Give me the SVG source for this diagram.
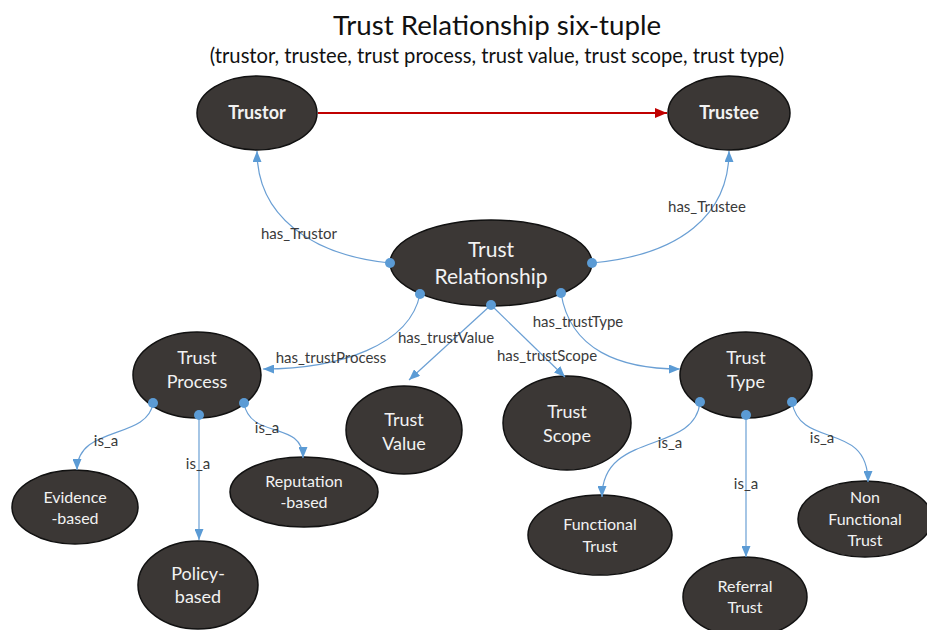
<svg xmlns="http://www.w3.org/2000/svg" width="927" height="630" viewBox="0 0 927 630">
  <style>
    .node ellipse { fill: #3b3735; stroke: #111; stroke-width: 1.5; }
    .node text { fill: #f2f2f2; font-family: Lato, "Open Sans", sans-serif; text-anchor: middle; }
    .edge { fill: none; stroke: #6a9fd4; stroke-width: 1.2; marker-end: url(#arrowBlue); }
    .dot { fill: #5b9bd5; }
    .elabel { fill: #3a3a3a; font-family: Lato, "Open Sans", sans-serif; font-size: 15px; text-anchor: middle; }
    .title { fill: #111; font-family: Lato, "Open Sans", sans-serif; text-anchor: middle; }
  </style>
  <defs>
    <marker id="arrowBlue" markerUnits="userSpaceOnUse" markerWidth="11" markerHeight="9" refX="11" refY="4.5" orient="auto">
      <path d="M0,0 L11,4.5 L0,9 z" fill="#5b9bd5"/>
    </marker>
    <marker id="arrowRed" markerUnits="userSpaceOnUse" markerWidth="12" markerHeight="10" refX="12" refY="5" orient="auto">
      <path d="M0,0 L12,5 L0,10 z" fill="#c00000"/>
    </marker>
  </defs>
  <rect width="927" height="630" fill="#ffffff"/>

  <!-- heading -->
  <text class="title" x="497" y="35" font-size="27.7">Trust Relationship six-tuple</text>
  <text class="title" x="497" y="63" font-size="20.2">(trustor, trustee, trust process, trust value, trust scope, trust type)</text>

  <!-- nodes -->
  <g id="trustor" class="node">
    <ellipse cx="257" cy="113" rx="60" ry="37"/>
    <text x="257" y="119" font-size="18" font-weight="bold">Trustor</text>
  </g>
  <g id="trustee" class="node">
    <ellipse cx="729" cy="113" rx="61" ry="37"/>
    <text x="729" y="119" font-size="18" font-weight="bold">Trustee</text>
  </g>
  <g id="trust-relationship" class="node">
    <ellipse cx="491" cy="263" rx="101" ry="43"/>
    <text x="491" y="257" font-size="21">Trust</text>
    <text x="491" y="284" font-size="21">Relationship</text>
  </g>
  <g id="trust-process" class="node">
    <ellipse cx="197" cy="375" rx="64" ry="43"/>
    <text x="197" y="364" font-size="18">Trust</text>
    <text x="197" y="388" font-size="18">Process</text>
  </g>
  <g id="trust-value" class="node">
    <ellipse cx="404" cy="430" rx="58" ry="44"/>
    <text x="404" y="426" font-size="18">Trust</text>
    <text x="404" y="450" font-size="18">Value</text>
  </g>
  <g id="trust-scope" class="node">
    <ellipse cx="567" cy="423" rx="64" ry="47"/>
    <text x="567" y="418" font-size="18">Trust</text>
    <text x="567" y="442" font-size="18">Scope</text>
  </g>
  <g id="trust-type" class="node">
    <ellipse cx="746" cy="375" rx="66" ry="43"/>
    <text x="746" y="364" font-size="18">Trust</text>
    <text x="746" y="388" font-size="18">Type</text>
  </g>
  <g id="evidence-based" class="node">
    <ellipse cx="75" cy="507" rx="63" ry="37"/>
    <text x="75" y="503" font-size="16">Evidence</text>
    <text x="75" y="524" font-size="16">-based</text>
  </g>
  <g id="policy-based" class="node">
    <ellipse cx="198" cy="585" rx="60" ry="44"/>
    <text x="198" y="580" font-size="18">Policy-</text>
    <text x="198" y="603" font-size="18">based</text>
  </g>
  <g id="reputation-based" class="node">
    <ellipse cx="304" cy="492" rx="74" ry="35"/>
    <text x="304" y="487" font-size="16">Reputation</text>
    <text x="304" y="508" font-size="16">-based</text>
  </g>
  <g id="functional-trust" class="node">
    <ellipse cx="600" cy="535" rx="72" ry="40"/>
    <text x="600" y="530" font-size="16">Functional</text>
    <text x="600" y="552" font-size="16">Trust</text>
  </g>
  <g id="referral-trust" class="node">
    <ellipse cx="745" cy="597" rx="62" ry="40"/>
    <text x="745" y="592" font-size="16">Referral</text>
    <text x="745" y="613" font-size="16">Trust</text>
  </g>
  <g id="non-functional-trust" class="node">
    <ellipse cx="865" cy="519" rx="67" ry="38"/>
    <text x="865" y="503" font-size="16">Non</text>
    <text x="865" y="525" font-size="16">Functional</text>
    <text x="865" y="546" font-size="16">Trust</text>
  </g>

  <!-- connectors, drawn above the nodes so the anchor dots stay visible -->
  <g id="connectors">
    <path d="M318,113 L667,113" fill="none" stroke="#c00000" stroke-width="2" marker-end="url(#arrowRed)"/>
    <path class="edge" d="M390,263 C310,255 257,215 257,151"/>
    <path class="edge" d="M592,263 C680,255 729,215 729,151"/>
    <path class="edge" d="M420,294 C410,345 340,369 263,369"/>
    <path class="edge" d="M491,305 L409,380"/>
    <path class="edge" d="M491,305 L565,377"/>
    <path class="edge" d="M561,293 C570,350 620,369 680,369"/>
    <path class="edge" d="M153,403 C148,440 77,425 77,470"/>
    <path class="edge" d="M199,415 L199,540"/>
    <path class="edge" d="M244,403 C250,440 303,420 303,458"/>
    <path class="edge" d="M700,402 C695,455 602,430 602,497"/>
    <path class="edge" d="M746,415 L746,557"/>
    <path class="edge" d="M792,402 C800,450 868,420 868,482"/>
    <circle class="dot" cx="390" cy="263" r="5"/>
    <circle class="dot" cx="592" cy="263" r="5"/>
    <circle class="dot" cx="420" cy="294" r="5"/>
    <circle class="dot" cx="491" cy="305" r="5"/>
    <circle class="dot" cx="561" cy="293" r="5"/>
    <circle class="dot" cx="153" cy="403" r="5"/>
    <circle class="dot" cx="199" cy="415" r="5"/>
    <circle class="dot" cx="244" cy="403" r="5"/>
    <circle class="dot" cx="700" cy="402" r="5"/>
    <circle class="dot" cx="746" cy="415" r="5"/>
    <circle class="dot" cx="792" cy="402" r="5"/>
    <text class="elabel" x="299" y="239">has_Trustor</text>
    <text class="elabel" x="707" y="212">has_Trustee</text>
    <text class="elabel" x="331" y="363">has_trustProcess</text>
    <text class="elabel" x="446" y="343">has_trustValue</text>
    <text class="elabel" x="547" y="361">has_trustScope</text>
    <text class="elabel" x="578" y="327">has_trustType</text>
    <text class="elabel" x="106" y="446">is_a</text>
    <text class="elabel" x="198" y="469">is_a</text>
    <text class="elabel" x="267" y="433">is_a</text>
    <text class="elabel" x="670" y="448">is_a</text>
    <text class="elabel" x="746" y="489">is_a</text>
    <text class="elabel" x="822" y="443">is_a</text>
  </g>
</svg>
